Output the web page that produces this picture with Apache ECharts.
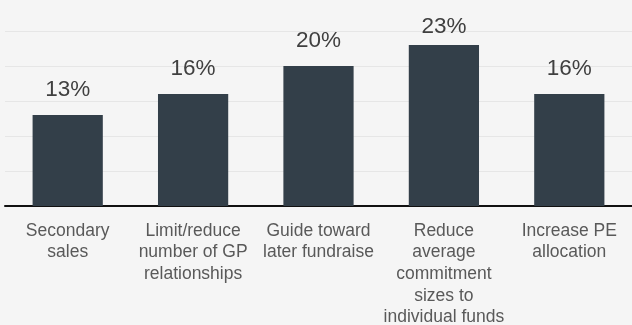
<!DOCTYPE html>
<html>
<head>
<meta charset="utf-8">
<script src="https://cdn.jsdelivr.net/npm/echarts@6/dist/echarts.min.js"></script>
<style>
html,body{margin:0;padding:0;background:#f5f5f5;}
#c{width:632px;height:325px;}
</style>
</head>
<body>
<div id="c"></div>
<script>
const categories = [
  "Secondary\nsales",
  "Limit/reduce\nnumber of GP\nrelationships",
  "Guide toward\nlater fundraise",
  "Reduce\naverage\ncommitment\nsizes to\nindividual funds",
  "Increase PE\nallocation"
];
const values = [13, 16, 20, 23, 16];
const yTicks = [0, 5, 10, 15, 20, 25];

const maxVal = Math.max.apply(null, values);
// the tallest bar's label sits closer to its bar (pushed down by the chart top)
const seriesData = values.map(function (v) {
  return v === maxVal ? {value: v, label: {distance: 7}} : v;
});

const chart = echarts.init(document.getElementById('c'), null, {renderer: 'canvas'});
chart.setOption({
  backgroundColor: '#f5f5f5',
  animation: false,
  grid: {left: 5, right: 0, top: 31, bottom: 119, containLabel: false, outerBoundsMode: 'none'},
  xAxis: {
    type: 'category',
    data: categories,
    axisLine: {show: true, lineStyle: {color: '#111111', width: 2}},
    axisTick: {show: false},
    axisLabel: {
      interval: 0,
      margin: 14,
      color: '#595959',
      fontFamily: 'Liberation Sans, Arial, sans-serif',
      fontSize: 17.5,
      lineHeight: 21.7,
      align: 'center'
    }
  },
  yAxis: {
    type: 'value',
    min: yTicks[0],
    max: yTicks[yTicks.length - 1],
    interval: 5,
    axisLine: {show: false},
    axisTick: {show: false},
    axisLabel: {show: false},
    splitLine: {show: true, lineStyle: {color: '#e6e6e6', width: 1}}
  },
  series: [{
    type: 'bar',
    data: seriesData,
    barWidth: '56%',
    itemStyle: {color: '#333f49'},
    label: {
      show: true,
      position: 'top',
      distance: 14,
      formatter: '{c}%',
      color: '#404040',
      fontFamily: 'Liberation Sans, Arial, sans-serif',
      fontSize: 22.5
    }
  }]
});
</script>
</body>
</html>
